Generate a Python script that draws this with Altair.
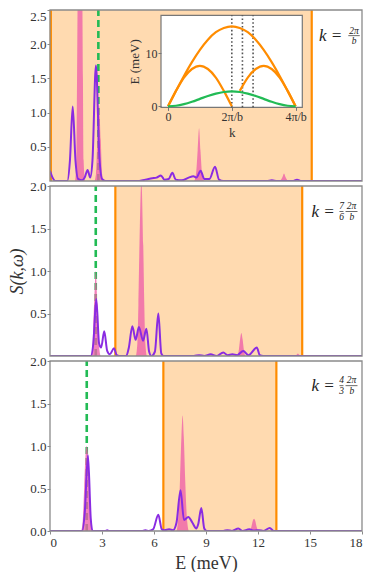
import altair as alt
import pandas as pd

FONT = "Liberation Serif"
E_TICKS = [0, 3, 6, 9, 12, 15, 18]

# ---------------- panel data (E in meV, S(k,w)) ----------------
p1_purple_E = [0.0, 0.15, 0.3, 1.0, 1.15, 1.31, 1.47, 1.62, 1.85, 2.0, 2.17, 2.32, 2.45, 2.65, 2.85, 3.0, 3.2,
               5.0, 5.5, 5.9, 6.15, 6.4, 6.6, 6.85, 7.06, 7.25, 7.6, 8.0, 8.27, 8.45, 8.69, 8.9, 9.2, 9.52,
               9.75, 10.0, 12.5, 12.8, 13.1, 14.0, 14.25, 14.5, 18.0]
p1_purple_S = [0.15, 0.05, 0.0, 0.0, 0.3, 1.09, 0.3, 0.03, 0.01, 0.05, 0.16, 0.05, 0.3, 1.69, 0.35, 0.03, 0.0,
               0.0, 0.02, 0.04, 0.05, 0.08, 0.02, 0.03, 0.12, 0.02, 0.01, 0.05, 0.07, 0.05, 0.15, 0.03, 0.03, 0.21,
               0.02, 0.0, 0.0, 0.01, 0.0, 0.0, 0.02, 0.0, 0.0]
p1_pink_E = [0.0, 1.44, 1.52, 1.56, 1.6, 1.73, 1.86, 1.9, 1.94, 2.02, 2.55, 2.65, 2.73, 2.83, 2.93, 3.01, 3.1,
             8.3, 8.42, 8.52, 8.6, 8.68, 8.78, 8.9, 13.25, 13.4, 13.5, 13.6, 13.75, 18.0]
p1_pink_S = [0.0, 0.0, 0.3, 1.5, 2.8, 4.0, 2.8, 1.5, 0.3, 0.0, 0.0, 0.1, 0.6, 1.1, 0.6, 0.1, 0.0,
             0.0, 0.1, 0.45, 0.77, 0.45, 0.1, 0.0, 0.0, 0.05, 0.11, 0.05, 0.0, 0.0]

p2_purple_E = [0.0, 2.35, 2.5, 2.67, 2.83, 2.95, 3.13, 3.3, 3.45, 3.69, 3.85, 4.0, 4.4, 4.55, 4.75, 4.94, 5.13,
               5.37, 5.56, 5.72, 5.85, 6.05, 6.25, 6.42, 6.55, 8.3, 8.6, 8.9, 9.27, 9.6, 10.0, 10.25, 10.52,
               10.8, 11.15, 11.45, 11.93, 12.1, 12.3, 18.0]
p2_purple_S = [0.0, 0.0, 0.15, 0.67, 0.15, 0.1, 0.29, 0.06, 0.02, 0.09, 0.01, 0.0, 0.0, 0.1, 0.35, 0.19, 0.34,
               0.18, 0.32, 0.05, 0.0, 0.05, 0.5, 0.03, 0.0, 0.0, 0.01, 0.0, 0.02, 0.0, 0.04, 0.01, 0.02,
               0.01, 0.06, 0.01, 0.1, 0.01, 0.0, 0.0]
p2_pink_E = [0.0, 2.35, 2.44, 2.54, 2.64, 2.74, 2.84, 2.93, 4.94, 5.04, 5.1, 5.16, 5.27, 5.38, 5.44, 5.5, 5.6,
             10.8, 10.9, 10.97, 11.04, 11.11, 11.18, 11.28, 14.15, 14.3, 14.45, 18.0]
p2_pink_S = [0.0, 0.0, 0.1, 0.6, 1.0, 0.6, 0.1, 0.0, 0.0, 0.15, 0.6, 1.3, 2.05, 1.3, 0.6, 0.15, 0.0,
             0.0, 0.08, 0.2, 0.27, 0.2, 0.08, 0.0, 0.0, 0.03, 0.0, 0.0]

p3_purple_E = [0.0, 1.85, 2.0, 2.19, 2.35, 2.45, 3.2, 3.3, 3.4, 5.3, 5.5, 5.7, 5.95, 6.25, 6.45, 6.6, 6.87, 7.1,
               7.3, 7.53, 7.73, 7.98, 8.21, 8.44, 8.55, 8.73, 8.9, 9.05, 10.0, 10.23, 10.5, 10.87, 11.1, 11.5,
               11.75, 12.06, 12.3, 12.68, 12.9, 18.0]
p3_purple_S = [0.0, 0.0, 0.2, 0.89, 0.15, 0.0, 0.0, 0.01, 0.0, 0.0, 0.01, 0.0, 0.02, 0.19, 0.02, 0.01, 0.02, 0.01,
               0.1, 0.48, 0.13, 0.165, 0.1, 0.03, 0.08, 0.27, 0.03, 0.0, 0.0, 0.01, 0.0, 0.03, 0.0, 0.02,
               0.005, 0.01, 0.0, 0.035, 0.0, 0.0]
p3_pink_E = [0.0, 1.78, 1.88, 1.97, 2.05, 2.12, 2.19, 2.27, 2.36, 2.46, 7.28, 7.4, 7.5, 7.58, 7.65, 7.72, 7.8,
             7.9, 8.02, 11.5, 11.62, 11.7, 11.77, 11.84, 11.92, 12.04, 18.0]
p3_pink_S = [0.0, 0.0, 0.1, 0.5, 0.9, 1.0, 0.9, 0.5, 0.1, 0.0, 0.0, 0.15, 0.6, 1.1, 1.36, 1.1, 0.6,
             0.15, 0.0, 0.0, 0.05, 0.12, 0.145, 0.12, 0.05, 0.0, 0.0]

band_lo = [0.05, 3.77, 6.54]
band_hi = [15.1, 14.55, 13.06]
green_E = [2.79, 2.64, 2.12]
y_max = [2.5, 2.0, 2.0]
y_ticks = [[0.5, 1.0, 1.5, 2.0, 2.5], [0.5, 1.0, 1.5, 2.0], [0.0, 0.5, 1.0, 1.5, 2.0]]
heights = [171, 170, 170]

# k-label annotations
k_eq_pos = [(15.52, 2.12), (15.09, 1.70), (15.09, 1.71)]
frac_parts = [
    [("2π", 17.54, 2.20), ("b", 17.54, 2.04)],
    [("7", 16.82, 1.765), ("6", 16.82, 1.635), ("2π", 17.39, 1.765), ("b", 17.42, 1.635)],
    [("4", 16.82, 1.775), ("3", 16.82, 1.645), ("2π", 17.39, 1.775), ("b", 17.42, 1.645)],
]
frac_bars = [
    [(17.21, 17.87, 2.125)],
    [(16.70, 16.93, 1.70), (17.05, 17.74, 1.70)],
    [(16.70, 16.93, 1.71), (17.05, 17.74, 1.71)],
]

# ---------------- inset data (k in units of 2pi/b, E in meV) ----------------
inset_k = [0, 0.125, 0.25, 0.375, 0.5, 0.625, 0.75, 0.875, 1.0,
           1.125, 1.25, 1.375, 1.5, 1.625, 1.75, 1.875, 2.0]
inset_upper = [0, 2.9, 5.7, 8.3, 10.6, 12.5, 13.9, 14.7, 15.0, 14.7, 13.9, 12.5, 10.6, 8.3, 5.7, 2.9, 0]
inset_middle = [0, 2.9, 5.4, 7.0, 7.6, 7.0, 5.4, 2.9, 0, 2.9, 5.4, 7.0, 7.6, 7.0, 5.4, 2.9, 0]
inset_green = [0, 0.11, 0.41, 0.86, 1.4, 1.94, 2.39, 2.69, 2.8, 2.69, 2.39, 1.94, 1.4, 0.86, 0.41, 0.11, 0]
inset_cuts = [1.0, 7 / 6, 4 / 3]
inset_kdom = [-0.11, 2.105]
inset_Edom = [-0.2, 17.07]

ORANGE = "#FF8C00"
PEACH = "#FFDAB0"
PINK = "#EE5FA8"
PURPLE = "#8A2BE2"
GREEN = "#22BB55"
FRAME = "#8a8a8a"
TXT = "#333333"


def make_panel(i):
    h = heights[i]
    ymax = y_max[i]
    xs = alt.Scale(domain=[0, 18], nice=False, zero=False)
    ys = alt.Scale(domain=[0, ymax], nice=False, zero=False)
    if i == 2:
        xaxis = alt.Axis(values=E_TICKS, format="d", title="E (meV)", tickSize=3, labelPadding=2,
                         titlePadding=5, titleFontSize=18, titleFontWeight="normal", labelFontSize=13,
                         labelFont=FONT, titleFont=FONT, labelColor=TXT, titleColor=TXT, tickColor=FRAME,
                         domain=False, grid=False)
    else:
        xaxis = None
    yaxis = alt.Axis(values=y_ticks[i], format=".1f", tickSize=3, labelPadding=1, labelFontSize=13,
                     labelFlush=(i == 0), labelFont=FONT, titleFont=FONT, labelColor=TXT, titleColor=TXT,
                     tickColor=FRAME, domain=False, grid=False,
                     title="S(k,ω)" if i == 1 else None, titleFontSize=18, titleFontStyle="italic",
                     titleFontWeight="normal", titlePadding=3)

    def X(f):
        return alt.X(f, type="quantitative", scale=xs, axis=xaxis)

    def Y(f):
        return alt.Y(f, type="quantitative", scale=ys, axis=yaxis)

    band_df = pd.DataFrame({"lo": [band_lo[i]], "hi": [band_hi[i]], "y0": [0.0], "y1": [ymax]})
    edges_df = pd.DataFrame({"E": [band_lo[i], band_hi[i]], "y0": [0.0, 0.0], "y1": [ymax, ymax]})
    green_df = pd.DataFrame({"E": [green_E[i]], "y0": [0.0], "y1": [ymax]})
    pE, pS = [(p1_pink_E, p1_pink_S), (p2_pink_E, p2_pink_S), (p3_pink_E, p3_pink_S)][i]
    uE, uS = [(p1_purple_E, p1_purple_S), (p2_purple_E, p2_purple_S), (p3_purple_E, p3_purple_S)][i]
    pink_df = pd.DataFrame({"E": pE, "S": pS})
    purple_df = pd.DataFrame({"E": uE, "S": uS})
    frame_df = pd.DataFrame({"lo": [0.0], "hi": [18.0], "y0": [0.0], "y1": [ymax]})

    band = alt.Chart(band_df).mark_rect(color=PEACH).encode(x=X("lo"), x2="hi", y=Y("y0"), y2="y1")
    green = alt.Chart(green_df).mark_rule(color=GREEN, strokeWidth=2.6, strokeDash=[7, 4]).encode(
        x=X("E"), y=Y("y0"), y2="y1")
    edges = alt.Chart(edges_df).mark_rule(color=ORANGE, strokeWidth=2.2).encode(
        x=X("E"), y=Y("y0"), y2="y1")
    pink = alt.Chart(pink_df).mark_area(color=PINK, opacity=0.78, interpolate="monotone", clip=True).encode(
        x=X("E"), y=Y("S"))
    purple = alt.Chart(purple_df).mark_line(color=PURPLE, strokeWidth=2, interpolate="monotone", clip=True).encode(
        x=X("E"), y=Y("S"))
    frame = alt.Chart(frame_df).mark_rect(fillOpacity=0, stroke=FRAME, strokeWidth=1.3).encode(
        x=X("lo"), x2="hi", y=Y("y0"), y2="y1")

    ke_df = pd.DataFrame({"E": [k_eq_pos[i][0]], "S": [k_eq_pos[i][1]], "t": ["k ="]})
    keq = alt.Chart(ke_df).mark_text(font=FONT, fontSize=17, fontStyle="italic", align="left",
                                     baseline="middle", color="#222").encode(x=X("E"), y=Y("S"), text="t:N")
    fr_df = pd.DataFrame({"t": [p[0] for p in frac_parts[i]], "E": [p[1] for p in frac_parts[i]],
                          "S": [p[2] for p in frac_parts[i]]})
    frac = alt.Chart(fr_df).mark_text(font=FONT, fontSize=9.5, fontStyle="italic", align="center",
                                      baseline="middle", color="#222").encode(x=X("E"), y=Y("S"), text="t:N")
    bar_df = pd.DataFrame({"lo": [b[0] for b in frac_bars[i]], "hi": [b[1] for b in frac_bars[i]],
                           "S": [b[2] for b in frac_bars[i]]})
    bars = alt.Chart(bar_df).mark_rule(color="#444", strokeWidth=0.8).encode(x=X("lo"), x2="hi", y=Y("S"))

    main = alt.layer(band, green, edges, pink, purple, frame, keq, frac, bars)

    if i != 0:
        return main.properties(width=312, height=h)

    # ---------- inset ----------
    ks = alt.Scale(domain=inset_kdom, range=[111, 252.3], nice=False, zero=False)
    es = alt.Scale(domain=inset_Edom, range=[97.4, 5.3], nice=False, zero=False)
    kax = alt.Axis(orient="bottom", offset=-73.6, values=[0, 1, 2], zindex=2,
                   labelExpr="datum.value == 0 ? '0' : (datum.value == 1 ? '2π/b' : '4π/b')",
                   title="k", tickSize=3, labelPadding=1, labelFontSize=12, titleFontSize=13,
                   titleFontWeight="normal", titlePadding=4, domain=False, grid=False,
                   labelFont=FONT, titleFont=FONT, labelColor=TXT, titleColor=TXT, tickColor="#777")
    eax = alt.Axis(orient="left", offset=-111, values=[0, 10], format="d", title="E (meV)", zindex=2,
                   tickSize=3, labelPadding=1, labelFontSize=12, titleFontSize=13,
                   titleFontWeight="normal", titlePadding=4, domain=False, grid=False,
                   labelFont=FONT, titleFont=FONT, labelColor=TXT, titleColor=TXT, tickColor="#777")

    def KX(f):
        return alt.X(f, type="quantitative", scale=ks, axis=kax)

    def EY(f):
        return alt.Y(f, type="quantitative", scale=es, axis=eax)

    box_df = pd.DataFrame({"k0": [inset_kdom[0]], "k1": [inset_kdom[1]], "e0": [inset_Edom[0]], "e1": [inset_Edom[1]]})
    box = alt.Chart(box_df).mark_rect(fill="white", stroke="#777", strokeWidth=1.2).encode(
        x=KX("k0"), x2="k1", y=EY("e0"), y2="e1")
    cut_df = pd.DataFrame({"k": inset_cuts, "e0": [inset_Edom[0]] * 3, "e1": [inset_Edom[1]] * 3})
    cuts = alt.Chart(cut_df).mark_rule(color="#555", strokeWidth=1.6, strokeDash=[1.6, 2.2]).encode(
        x=KX("k"), y=EY("e0"), y2="e1")
    rows = []
    for kk, e in zip(inset_k, inset_upper):
        rows.append({"k": kk, "E": e, "c": "upper", "col": "o"})
    for kk, e in zip(inset_k, inset_middle):
        rows.append({"k": kk, "E": e, "c": "midL" if kk <= 1 else "midR", "col": "o"})
    for kk, e in zip(inset_k, inset_green):
        rows.append({"k": kk, "E": e, "c": "green", "col": "g"})
    curves_df = pd.DataFrame(rows)
    curves = alt.Chart(curves_df).mark_line(strokeWidth=2.2, interpolate="monotone").encode(
        x=KX("k"), y=EY("E"), detail="c:N",
        color=alt.Color("col:N", scale=alt.Scale(domain=["o", "g"], range=[ORANGE, GREEN]), legend=None))
    inset = alt.layer(box, cuts, curves)

    return alt.layer(main, inset).resolve_scale(x="independent", y="independent").properties(
        width=312, height=h)


chart = alt.vconcat(make_panel(0), make_panel(1), make_panel(2), spacing=5, bounds="flush").properties(
    padding={"left": 0, "top": 0, "right": 0, "bottom": 0}
).configure(font=FONT).configure_axis(
    labelFont=FONT, titleFont=FONT, labelColor=TXT, titleColor=TXT, tickColor=FRAME, grid=False, domain=False
).configure_view(stroke=None)

chart.save("out.html", embed_options={"renderer": "svg", "actions": False})
